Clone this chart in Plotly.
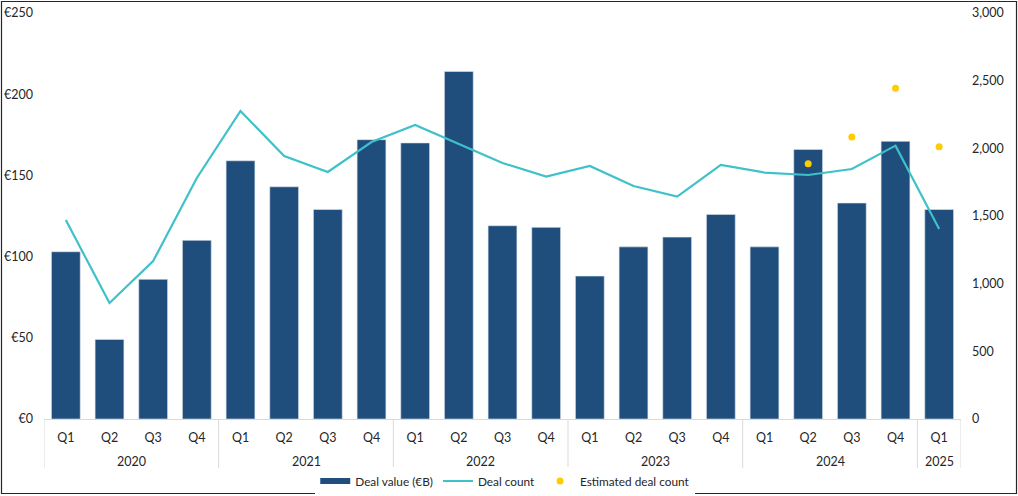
import plotly.graph_objects as go

years = ["2020"] * 4 + ["2021"] * 4 + ["2022"] * 4 + ["2023"] * 4 + ["2024"] * 4 + ["2025"]
quarters = ["Q1", "Q2", "Q3", "Q4"] * 5 + ["Q1"]

deal_value = [103, 49, 86, 110, 159, 143, 129, 172, 170, 214, 119, 118,
              88, 106, 112, 126, 106, 166, 133, 171, 129]
deal_count = [1470, 857, 1167, 1781, 2276, 1943, 1825, 2047, 2172, 2032, 1892, 1791,
              1870, 1722, 1643, 1877, 1821, 1803, 1847, 2020, 1404]
est_years = ["2024", "2024", "2024", "2025"]
est_quarters = ["Q2", "Q3", "Q4", "Q1"]
est_count = [1887, 2084, 2444, 2012]

FONT = "Lato"
TXT = "#262626"
BAR = "#1F4E7D"
LINE = "#3EC1C9"
DOT = "#FFCC00"
GRID = "#d9d9d9"

cats = [f"{y} {q}" for y, q in zip(years, quarters)]
est_cats = [f"{y} {q}" for y, q in zip(est_years, est_quarters)]

# year groups: first/last index per year
groups = []
for i, y in enumerate(years):
    if groups and groups[-1][0] == y:
        groups[-1][2] = i
    else:
        groups.append([y, i, i])

fig = go.Figure()
fig.add_trace(go.Bar(
    x=cats, y=deal_value, name="Deal value (€B)", showlegend=False,
    marker=dict(color=BAR, line=dict(color="#dfe6ee", width=0.6)),
    yaxis="y",
))
# legend entry drawn as a wide swatch like the reference
fig.add_trace(go.Scatter(
    x=[None], y=[None], name="Deal value (€B)", mode="lines",
    line=dict(color=BAR, width=6), yaxis="y",
))
fig.add_trace(go.Scatter(
    x=cats, y=deal_count, name="Deal count", mode="lines",
    line=dict(color=LINE, width=2.2), yaxis="y2",
))
fig.add_trace(go.Scatter(
    x=est_cats, y=est_count, name="Estimated deal count", mode="markers",
    marker=dict(color=DOT, size=7), yaxis="y2",
))

annotations = []
shapes = []
for name, a, b in groups:
    annotations.append(dict(x=(a + b) / 2, y=(419 - 461) / 406, xref="x", yref="paper",
                            text=name, showarrow=False, yanchor="middle",
                            font=dict(size=12.5, color=TXT, family=FONT)))
bounds = [g[1] - 0.5 for g in groups] + [groups[-1][2] + 0.5]
for bx in bounds:
    shapes.append(dict(type="line", xref="x", yref="paper", x0=bx, x1=bx,
                       y0=0, y1=(419 - 468) / 406, line=dict(color=GRID, width=1)))
shapes.append(dict(type="rect", xref="paper", yref="paper",
                   x0=(1.5 - 44) / 917, x1=(1016.5 - 44) / 917,
                   y0=(419 - 493.5) / 406, y1=(419 - 1.5) / 406,
                   line=dict(color="#262626", width=1.2), fillcolor="rgba(0,0,0,0)",
                   layer="above"))

fig.update_layout(
    width=1018, height=496,
    margin=dict(l=44, r=57, t=13, b=77, autoexpand=False),
    paper_bgcolor="white", plot_bgcolor="white",
    font=dict(family=FONT, size=12.5, color=TXT),
    bargap=0.34,
    showlegend=True,
    legend=dict(orientation="h", x=0.503, xanchor="center", y=(419 - 481) / 406, yanchor="middle",
                font=dict(size=11.8, color=TXT), itemwidth=30, traceorder="normal"),
    xaxis=dict(type="category", categoryorder="array", categoryarray=cats,
               range=[-0.5, len(cats) - 0.5],
               tickvals=cats, ticktext=quarters, automargin=False,
               showline=True, linecolor=GRID, linewidth=1,
               ticks="", showgrid=False, ticklabelstandoff=7,
               tickfont=dict(size=12.5, color=TXT)),
    yaxis=dict(range=[0, 250], dtick=50, tickprefix="€", showgrid=False, zeroline=False,
               automargin=False, showline=False, ticks="", ticklabelstandoff=10,
               tickfont=dict(size=12.5, color=TXT)),
    yaxis2=dict(range=[0, 3000], dtick=500, tickformat=",", overlaying="y", side="right",
                automargin=False, showgrid=False, zeroline=False, showline=False, ticks="",
                ticklabelstandoff=10, tickfont=dict(size=12.5, color=TXT)),
    annotations=annotations,
    shapes=shapes,
)

fig.write_html(
    "out.html",
    config={"displayModeBar": False},
    post_script="document.body.style.margin='0';document.body.style.overflow='hidden';",
)
